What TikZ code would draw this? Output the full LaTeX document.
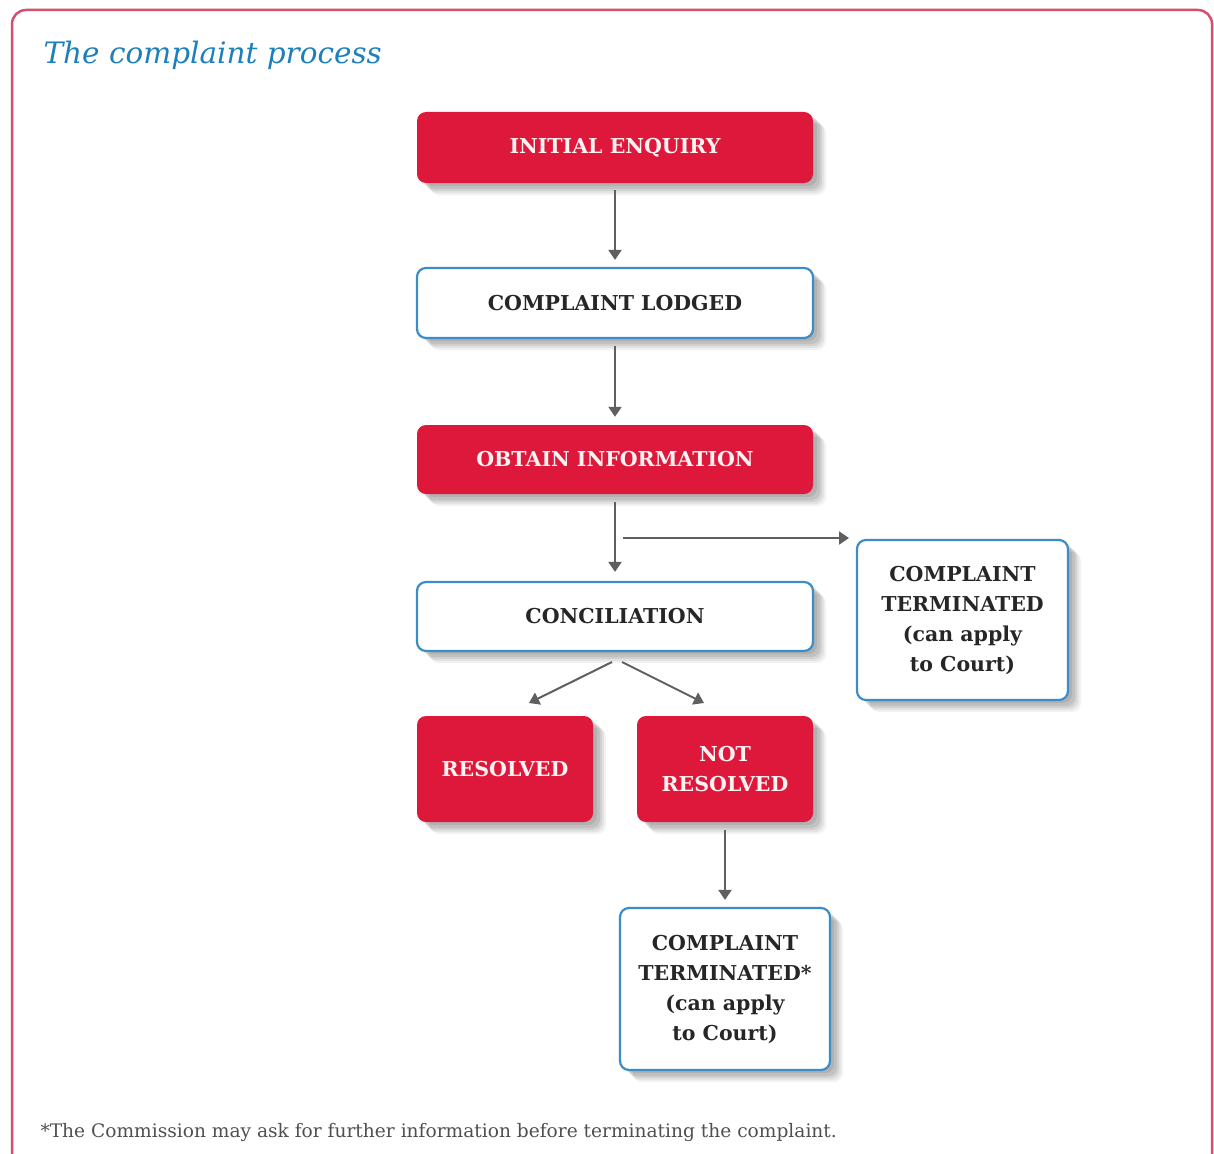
\documentclass[tikz,border=0pt]{standalone}
\usepackage{fontspec}
\setmainfont{DejaVu Serif}
\usetikzlibrary{arrows.meta,shadows}
\definecolor{boxred}{RGB}{222,24,58}
\definecolor{boxblue}{RGB}{60,140,200}
\definecolor{framered}{RGB}{214,80,110}
\definecolor{titleblue}{RGB}{30,128,186}
\definecolor{arrowgray}{RGB}{95,95,95}
\definecolor{darktext}{RGB}{38,38,38}
\definecolor{notegray}{RGB}{80,80,80}
\tikzset{
  shad/.style={
    drop shadow={shadow xshift=13pt,shadow yshift=-12pt,opacity=0.05,fill=black},
    drop shadow={shadow xshift=11pt,shadow yshift=-10pt,opacity=0.06,fill=black},
    drop shadow={shadow xshift=9pt,shadow yshift=-8pt,opacity=0.07,fill=black},
    drop shadow={shadow xshift=7pt,shadow yshift=-6pt,opacity=0.08,fill=black},
    drop shadow={shadow xshift=4pt,shadow yshift=-3pt,opacity=0.08,fill=black}},
  redbox/.style={shad,rectangle,rounded corners=9pt,fill=boxred,draw=none,text=white!95!red,
    font=\bfseries\fontsize{20.5}{30}\selectfont,align=center,inner sep=0pt},
  whitebox/.style={shad,rectangle,rounded corners=9pt,fill=white,draw=boxblue,line width=2.2pt,text=darktext,
    font=\bfseries\fontsize{20.5}{30}\selectfont,align=center,inner sep=0pt},
  flow/.style={draw=arrowgray,line width=2pt,-{Triangle[width=13pt,length=10pt]}},
}
\begin{document}
\begin{tikzpicture}[x=1pt,y=-1pt]
\useasboundingbox (0,0) rectangle (1214,1153);
\fill[white] (0,0) rectangle (1214,1153);
\draw[framered,line width=2.5pt,rounded corners=14pt] (12,1180) -- (12,10) -- (1212,10) -- (1212,1180);
\node[anchor=west,text=titleblue,font=\itshape\fontsize{29.5}{32}\selectfont] (title) at (40,55) {The complaint process};

\node[redbox,minimum width=396pt,minimum height=71pt] (ie) at (615,147.5) {INITIAL ENQUIRY};
\node[whitebox,minimum width=396pt,minimum height=70pt] (cl) at (615,303) {COMPLAINT LODGED};
\node[redbox,minimum width=396pt,minimum height=69pt] (oi) at (615,459.5) {OBTAIN INFORMATION};
\node[whitebox,minimum width=396pt,minimum height=69pt] (co) at (615,616.5) {CONCILIATION};
\node[whitebox,minimum width=211pt,minimum height=160pt] (ct1) at (962.5,620) {COMPLAINT\\TERMINATED\\(can apply\\to Court)};
\node[redbox,minimum width=176pt,minimum height=106pt] (res) at (505,769) {RESOLVED};
\node[redbox,minimum width=176pt,minimum height=106pt] (nres) at (725,769) {NOT\\RESOLVED};
\node[whitebox,minimum width=210pt,minimum height=162pt] (ct2) at (725,989) {COMPLAINT\\TERMINATED*\\(can apply\\to Court)};

\coordinate (b1) at (623,538);
\coordinate (b2) at (849,538);
\coordinate (f1) at (612,662);
\coordinate (f2) at (622,662);
\coordinate (r1) at (529,703);
\coordinate (r2) at (704,703);

\draw[flow] ([yshift=-7pt]ie.south) -- ([yshift=7pt]cl.north);
\draw[flow] ([yshift=-7pt]cl.south) -- ([yshift=8pt]oi.north);
\draw[flow] ([yshift=-8pt]oi.south) -- ([yshift=9pt]co.north);
\draw[flow] (b1) -- (b2);
\draw[flow] (f1) -- (r1);
\draw[flow] (f2) -- (r2);
\draw[flow] ([yshift=-8pt]nres.south) -- ([yshift=7pt]ct2.north);

\node[anchor=west,text=notegray,font=\fontsize{18.6}{20}\selectfont] (note) at (37,1132) {*The Commission may ask for further information before terminating the complaint.};
\end{tikzpicture}
\end{document}
